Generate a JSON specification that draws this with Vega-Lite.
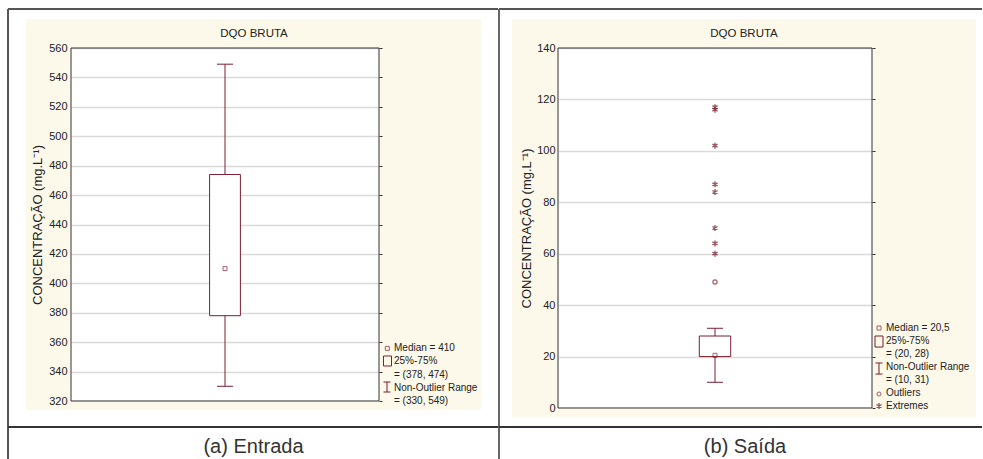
{
  "$schema": "https://vega.github.io/schema/vega-lite/v6.json",
  "background": "white",
  "padding": {"left": 7, "top": 7, "right": 0, "bottom": 0},
  "datasets": {
    "one": [{}],
    "boxA": [{"lower": 330, "q1": 378, "median": 410, "q3": 474, "upper": 549}],
    "boxB": [{"lower": 10, "q1": 20, "median": 20.5, "q3": 28, "upper": 31}],
    "outB": [{"value": 49, "kind": "Outlier"}],
    "extB": [
      {"value": 117, "kind": "Extreme"}, {"value": 116, "kind": "Extreme"},
      {"value": 102, "kind": "Extreme"}, {"value": 87, "kind": "Extreme"},
      {"value": 84, "kind": "Extreme"}, {"value": 70, "kind": "Extreme"},
      {"value": 64, "kind": "Extreme"}, {"value": 60, "kind": "Extreme"}
    ]
  },
  "hconcat": [
    {
      "width": 308, "height": 353,
      "data": {"name": "one"},
      "resolve": {"axis": {"y": "independent"}},
      "layer": [
        {"mark": {"type": "rect", "fill": "#fcf8ea"}, "encoding": {"x": {"datum": -0.1461, "type": "quantitative", "axis": null, "scale": {"domain": [0, 1], "nice": false, "zero": false}}, "x2": {"datum": 0}, "y": {"datum": 579.72, "type": "quantitative", "axis": null, "scale": {"domain": [320, 560], "nice": false, "zero": false}}, "y2": {"datum": 313.88}}},
        {"mark": {"type": "rect", "fill": "#fcf8ea"}, "encoding": {"x": {"datum": 1, "type": "quantitative", "axis": null}, "x2": {"datum": 1.3312}, "y": {"datum": 579.72, "type": "quantitative", "axis": null}, "y2": {"datum": 313.88}}},
        {"mark": {"type": "rect", "fill": "#fcf8ea"}, "encoding": {"x": {"datum": 0, "type": "quantitative", "axis": null}, "x2": {"datum": 1}, "y": {"datum": 579.72, "type": "quantitative", "axis": null}, "y2": {"datum": 560}}},
        {"mark": {"type": "rect", "fill": "#fcf8ea"}, "encoding": {"x": {"datum": 0, "type": "quantitative", "axis": null}, "x2": {"datum": 1}, "y": {"datum": 320, "type": "quantitative", "axis": null}, "y2": {"datum": 313.88}}},
        {"mark": {"type": "rect", "filled": false, "color": "#333333", "strokeWidth": 1}, "encoding": {"x": {"datum": 0, "type": "quantitative", "axis": null}, "x2": {"datum": 1}, "y": {"datum": 320, "type": "quantitative", "axis": null}, "y2": {"datum": 560}}},
        {"mark": {"type": "rule", "color": "#555555", "strokeWidth": 2}, "encoding": {"x": {"datum": -0.2045, "type": "quantitative", "axis": null}, "x2": {"datum": 1.3864}, "y": {"datum": 586.52, "type": "quantitative", "axis": null}}},
        {"mark": {"type": "rule", "color": "#555555", "strokeWidth": 2}, "encoding": {"x": {"datum": -0.2045, "type": "quantitative", "axis": null}, "y": {"datum": 586.52, "type": "quantitative", "axis": null}, "y2": {"datum": 280.56}}},
        {"mark": {"type": "rule", "color": "#333333", "strokeWidth": 2}, "encoding": {"x": {"datum": -0.2045, "type": "quantitative", "axis": null}, "x2": {"datum": 1.3864}, "y": {"datum": 302.32, "type": "quantitative", "axis": null}}},
        {"mark": {"type": "text", "text": "DQO BRUTA", "font": "Liberation Sans", "fontSize": 11.5, "color": "#222222", "align": "center", "baseline": "middle"}, "encoding": {"x": {"datum": 0.5942, "type": "quantitative", "axis": null}, "y": {"datum": 569.52, "type": "quantitative", "axis": null}}},
        {"mark": {"type": "text", "text": "(a) Entrada", "font": "Liberation Sans", "fontSize": 20, "color": "#333333", "align": "center", "baseline": "middle"}, "encoding": {"x": {"datum": 0.5925, "type": "quantitative", "axis": null}, "y": {"datum": 288.72, "type": "quantitative", "axis": null}}},
        {"mark": {"type": "text", "text": ["Median = 410", "25%-75%", "= (378, 474)", "Non-Outlier Range", "= (330, 549)"], "font": "Liberation Sans", "fontSize": 10, "lineHeight": 13.25, "color": "#222222", "align": "left", "baseline": "middle"}, "encoding": {"x": {"datum": 1.0487, "type": "quantitative", "axis": null}, "y": {"datum": 356.0, "type": "quantitative", "axis": null}}},
        {"mark": {"type": "point", "shape": "square", "size": 16, "filled": false, "color": "#7b1f2e", "strokeWidth": 1}, "encoding": {"x": {"datum": 1.027, "type": "quantitative", "axis": null}, "y": {"datum": 355.8, "type": "quantitative", "axis": null}}},
        {"mark": {"type": "rect", "fill": "#fcf8ea", "stroke": "#7b1f2e", "strokeWidth": 1}, "encoding": {"x": {"datum": 1.0146, "type": "quantitative", "axis": null}, "x2": {"datum": 1.0406}, "y": {"datum": 350.6, "type": "quantitative", "axis": null}, "y2": {"datum": 343.8}}},
        {"mark": {"type": "rule", "color": "#7b1f2e", "strokeWidth": 1}, "encoding": {"x": {"datum": 1.026, "type": "quantitative", "axis": null}, "y": {"datum": 332.9, "type": "quantitative", "axis": null}, "y2": {"datum": 326.1}}},
        {"mark": {"type": "rule", "color": "#7b1f2e", "strokeWidth": 1}, "encoding": {"x": {"datum": 1.0146, "type": "quantitative", "axis": null}, "x2": {"datum": 1.0373}, "y": {"datum": 332.9, "type": "quantitative", "axis": null}}},
        {"mark": {"type": "rule", "color": "#7b1f2e", "strokeWidth": 1}, "encoding": {"x": {"datum": 1.0146, "type": "quantitative", "axis": null}, "x2": {"datum": 1.0373}, "y": {"datum": 326.1, "type": "quantitative", "axis": null}}},
        {"data": {"name": "boxA"}, "mark": {"type": "rule", "color": "#7b1f2e", "strokeWidth": 1}, "encoding": {"x": {"datum": 0.5, "type": "quantitative", "axis": null}, "y": {"field": "lower", "type": "quantitative", "axis": {"orient": "left", "values": [320, 340, 360, 380, 400, 420, 440, 460, 480, 500, 520, 540, 560], "grid": true, "gridColor": "#d9d9d9", "gridWidth": 1.5, "ticks": false, "domain": false, "labels": false, "title": null, "zindex": 0}}, "y2": {"field": "upper"}}},
        {"data": {"name": "boxA"}, "mark": {"type": "rule", "color": "#7b1f2e", "strokeWidth": 1}, "encoding": {"x": {"datum": 0.474, "type": "quantitative", "axis": null}, "x2": {"datum": 0.526}, "y": {"field": "lower", "type": "quantitative", "axis": {"orient": "left", "values": [320, 340, 360, 380, 400, 420, 440, 460, 480, 500, 520, 540, 560], "grid": false, "ticks": false, "domain": false, "labelFont": "Liberation Sans", "labelFontSize": 11, "labelColor": "#222222", "labelPadding": 4, "title": "CONCENTRAÇÃO (mg.L⁻¹)", "titleFont": "Liberation Sans", "titleFontSize": 13, "titleFontWeight": "normal", "titleColor": "#222222", "titlePadding": 4, "zindex": 2}}}},
        {"data": {"name": "boxA"}, "mark": {"type": "rule", "color": "#7b1f2e", "strokeWidth": 1}, "encoding": {"x": {"datum": 0.474, "type": "quantitative", "axis": null}, "x2": {"datum": 0.526}, "y": {"field": "upper", "type": "quantitative", "axis": null}}},
        {"data": {"name": "boxA"}, "mark": {"type": "rect", "fill": "white", "stroke": "#7b1f2e", "strokeWidth": 1}, "encoding": {"x": {"datum": 0.45, "type": "quantitative", "axis": null}, "x2": {"datum": 0.55}, "y": {"field": "q1", "type": "quantitative", "axis": {"orient": "right", "values": [320, 340, 360, 380, 400, 420, 440, 460, 480, 500, 520, 540, 560], "grid": false, "labels": false, "domain": false, "ticks": true, "tickSize": 3, "tickColor": "#333333", "title": null, "zindex": 2}}, "y2": {"field": "q3"}}},
        {"data": {"name": "boxA"}, "mark": {"type": "point", "shape": "square", "size": 16, "filled": false, "color": "#7b1f2e", "strokeWidth": 1}, "encoding": {"x": {"datum": 0.5, "type": "quantitative", "axis": null}, "y": {"field": "median", "type": "quantitative", "axis": null}}}
      ]
    },
    {
      "width": 314, "height": 360,
      "data": {"name": "one"},
      "resolve": {"axis": {"y": "independent"}},
      "layer": [
        {"mark": {"type": "rect", "fill": "#fcf8ea"}, "encoding": {"x": {"datum": -0.1465, "type": "quantitative", "axis": null, "scale": {"domain": [0, 1], "nice": false, "zero": false}}, "x2": {"datum": 0}, "y": {"datum": 151.28, "type": "quantitative", "axis": null, "scale": {"domain": [0, 140], "nice": false, "zero": false}}, "y2": {"datum": -3.5}}},
        {"mark": {"type": "rect", "fill": "#fcf8ea"}, "encoding": {"x": {"datum": 1, "type": "quantitative", "axis": null}, "x2": {"datum": 1.3312}, "y": {"datum": 151.28, "type": "quantitative", "axis": null}, "y2": {"datum": -3.5}}},
        {"mark": {"type": "rect", "fill": "#fcf8ea"}, "encoding": {"x": {"datum": 0, "type": "quantitative", "axis": null}, "x2": {"datum": 1}, "y": {"datum": 151.28, "type": "quantitative", "axis": null}, "y2": {"datum": 140}}},
        {"mark": {"type": "rect", "fill": "#fcf8ea"}, "encoding": {"x": {"datum": 0, "type": "quantitative", "axis": null}, "x2": {"datum": 1}, "y": {"datum": 0, "type": "quantitative", "axis": null}, "y2": {"datum": -3.5}}},
        {"mark": {"type": "rect", "filled": false, "color": "#333333", "strokeWidth": 1}, "encoding": {"x": {"datum": 0, "type": "quantitative", "axis": null}, "x2": {"datum": 1}, "y": {"datum": 0, "type": "quantitative", "axis": null}, "y2": {"datum": 140}}},
        {"mark": {"type": "rule", "color": "#555555", "strokeWidth": 2}, "encoding": {"x": {"datum": -0.1879, "type": "quantitative", "axis": null}, "x2": {"datum": 1.3503}, "y": {"datum": 155.17, "type": "quantitative", "axis": null}}},
        {"mark": {"type": "rule", "color": "#666666", "strokeWidth": 2}, "encoding": {"x": {"datum": -0.1879, "type": "quantitative", "axis": null}, "y": {"datum": 155.17, "type": "quantitative", "axis": null}, "y2": {"datum": -19.83}}},
        {"mark": {"type": "rule", "color": "#333333", "strokeWidth": 2}, "encoding": {"x": {"datum": -0.1879, "type": "quantitative", "axis": null}, "x2": {"datum": 1.3503}, "y": {"datum": -7.39, "type": "quantitative", "axis": null}}},
        {"mark": {"type": "text", "text": "DQO BRUTA", "font": "Liberation Sans", "fontSize": 11.5, "color": "#222222", "align": "center", "baseline": "middle"}, "encoding": {"x": {"datum": 0.5924, "type": "quantitative", "axis": null}, "y": {"datum": 145.44, "type": "quantitative", "axis": null}}},
        {"mark": {"type": "text", "text": "(b) Saída", "font": "Liberation Sans", "fontSize": 20, "color": "#333333", "align": "center", "baseline": "middle"}, "encoding": {"x": {"datum": 0.5955, "type": "quantitative", "axis": null}, "y": {"datum": -15.17, "type": "quantitative", "axis": null}}},
        {"mark": {"type": "text", "text": ["Median = 20,5", "25%-75%", "= (20, 28)", "Non-Outlier Range", "= (10, 31)", "Outliers", "Extremes"], "font": "Liberation Sans", "fontSize": 10, "lineHeight": 13, "color": "#222222", "align": "left", "baseline": "middle"}, "encoding": {"x": {"datum": 1.0446, "type": "quantitative", "axis": null}, "y": {"datum": 31.1, "type": "quantitative", "axis": null}}},
        {"mark": {"type": "point", "shape": "square", "size": 16, "filled": false, "color": "#7b1f2e", "strokeWidth": 1}, "encoding": {"x": {"datum": 1.0223, "type": "quantitative", "axis": null}, "y": {"datum": 31.1, "type": "quantitative", "axis": null}}},
        {"mark": {"type": "rect", "fill": "#fcf8ea", "stroke": "#7b1f2e", "strokeWidth": 1}, "encoding": {"x": {"datum": 1.0096, "type": "quantitative", "axis": null}, "x2": {"datum": 1.035}, "y": {"datum": 28.0, "type": "quantitative", "axis": null}, "y2": {"datum": 23.7}}},
        {"mark": {"type": "rule", "color": "#7b1f2e", "strokeWidth": 1}, "encoding": {"x": {"datum": 1.0223, "type": "quantitative", "axis": null}, "y": {"datum": 17.5, "type": "quantitative", "axis": null}, "y2": {"datum": 13.2}}},
        {"mark": {"type": "rule", "color": "#7b1f2e", "strokeWidth": 1}, "encoding": {"x": {"datum": 1.0111, "type": "quantitative", "axis": null}, "x2": {"datum": 1.0334}, "y": {"datum": 17.5, "type": "quantitative", "axis": null}}},
        {"mark": {"type": "rule", "color": "#7b1f2e", "strokeWidth": 1}, "encoding": {"x": {"datum": 1.0111, "type": "quantitative", "axis": null}, "x2": {"datum": 1.0334}, "y": {"datum": 13.2, "type": "quantitative", "axis": null}}},
        {"mark": {"type": "point", "shape": "circle", "size": 16, "filled": false, "color": "#7b1f2e", "strokeWidth": 1}, "encoding": {"x": {"datum": 1.0223, "type": "quantitative", "axis": null}, "y": {"datum": 5.44, "type": "quantitative", "axis": null}}},
        {"mark": {"type": "point", "shape": "M0,-1V1M-0.866,-0.5L0.866,0.5M-0.866,0.5L0.866,-0.5", "size": 36, "filled": false, "color": "#6e1424", "strokeWidth": 1.4}, "encoding": {"x": {"datum": 1.0223, "type": "quantitative", "axis": null}, "y": {"datum": 0.78, "type": "quantitative", "axis": null}}},
        {"data": {"name": "boxB"}, "mark": {"type": "rule", "color": "#7b1f2e", "strokeWidth": 1}, "encoding": {"x": {"datum": 0.5, "type": "quantitative", "axis": null}, "y": {"field": "lower", "type": "quantitative", "axis": {"orient": "left", "values": [0, 20, 40, 60, 80, 100, 120, 140], "grid": true, "gridColor": "#d9d9d9", "gridWidth": 1.5, "ticks": false, "domain": false, "labels": false, "title": null, "zindex": 0}}, "y2": {"field": "upper"}}},
        {"data": {"name": "boxB"}, "mark": {"type": "rule", "color": "#7b1f2e", "strokeWidth": 1}, "encoding": {"x": {"datum": 0.4745, "type": "quantitative", "axis": null}, "x2": {"datum": 0.5255}, "y": {"field": "lower", "type": "quantitative", "axis": {"orient": "left", "values": [0, 20, 40, 60, 80, 100, 120, 140], "grid": false, "ticks": false, "domain": false, "labelFont": "Liberation Sans", "labelFontSize": 11, "labelColor": "#222222", "labelPadding": 3, "title": "CONCENTRAÇÃO (mg.L⁻¹)", "titleFont": "Liberation Sans", "titleFontSize": 13, "titleFontWeight": "normal", "titleColor": "#222222", "titlePadding": 3, "zindex": 2}}}},
        {"data": {"name": "boxB"}, "mark": {"type": "rule", "color": "#7b1f2e", "strokeWidth": 1}, "encoding": {"x": {"datum": 0.4745, "type": "quantitative", "axis": null}, "x2": {"datum": 0.5255}, "y": {"field": "upper", "type": "quantitative", "axis": null}}},
        {"data": {"name": "boxB"}, "mark": {"type": "rect", "fill": "white", "stroke": "#7b1f2e", "strokeWidth": 1}, "encoding": {"x": {"datum": 0.45, "type": "quantitative", "axis": null}, "x2": {"datum": 0.55}, "y": {"field": "q1", "type": "quantitative", "axis": {"orient": "right", "values": [0, 20, 40, 60, 80, 100, 120, 140], "grid": false, "labels": false, "domain": false, "ticks": true, "tickSize": 3, "tickColor": "#333333", "title": null, "zindex": 2}}, "y2": {"field": "q3"}}},
        {"data": {"name": "boxB"}, "mark": {"type": "point", "shape": "square", "size": 16, "filled": false, "color": "#7b1f2e", "strokeWidth": 1}, "encoding": {"x": {"datum": 0.5, "type": "quantitative", "axis": null}, "y": {"field": "median", "type": "quantitative", "axis": null}}},
        {"data": {"name": "outB"}, "mark": {"type": "point", "shape": "circle", "size": 18, "filled": false, "color": "#7b1f2e", "strokeWidth": 1.2}, "encoding": {"x": {"datum": 0.5, "type": "quantitative", "axis": null}, "y": {"field": "value", "type": "quantitative", "axis": null}}},
        {"data": {"name": "extB"}, "mark": {"type": "point", "shape": "M0,-1V1M-0.866,-0.5L0.866,0.5M-0.866,0.5L0.866,-0.5", "size": 36, "filled": false, "color": "#6e1424", "strokeWidth": 1.4}, "encoding": {"x": {"datum": 0.5, "type": "quantitative", "axis": null}, "y": {"field": "value", "type": "quantitative", "axis": null}}}
      ]
    }
  ],
  "spacing": -3,
  "config": {
    "font": "Liberation Sans",
    "view": {"stroke": null, "fill": "white"}
  }
}
